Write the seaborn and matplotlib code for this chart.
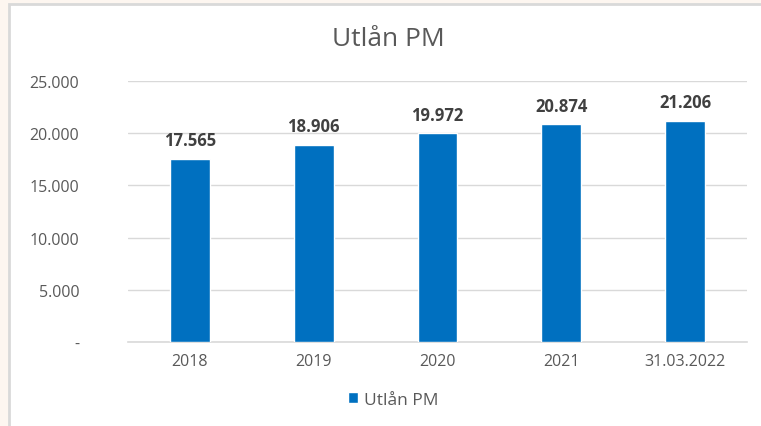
import numpy as np
import pandas as pd
import matplotlib
matplotlib.use("Agg")
import matplotlib.pyplot as plt
import seaborn as sns
from matplotlib.patches import Rectangle
from matplotlib import ticker

categories = ["2018", "2019", "2020", "2021", "31.03.2022"]
values = [17565, 18906, 19972, 20874, 21206]
series_name = "Utlån PM"
yticks = [0, 5000, 10000, 15000, 20000, 25000]

sns.set_style("white")
plt.rcParams['font.family'] = ['Open Sans', 'DejaVu Sans']

data = pd.DataFrame({"Year": categories, series_name: values})

fig = plt.figure(figsize=(7.61, 4.27), dpi=100, facecolor="#fdf6f0")
# white chart panel with grey border
fig.patches.append(Rectangle((9 / 761, -0.05), 1.0, 1 - 5 / 427 + 0.05, transform=fig.transFigure,
                             facecolor="white", edgecolor="#d9d9d9", linewidth=2, zorder=-5))

ax = fig.add_axes([128 / 761, 1 - 343 / 427, (747 - 128) / 761, (343 - 82) / 427])
ax.set_facecolor("none")

sns.barplot(data=data, x="Year", y=series_name, color="#0070c0", width=0.32, saturation=1,
            ax=ax, label=series_name, zorder=3)

ax.set_ylim(0, 25000)
ax.set_xlim(-0.5, len(categories) - 0.5)
ax.set_yticks(yticks)
ax.yaxis.set_major_formatter(ticker.FuncFormatter(
    lambda v, p: "-" if v == 0 else f"{int(v):,}".replace(",", ".")))
ax.yaxis.grid(True, color="#d9d9d9", linewidth=1, zorder=0)
ax.set_axisbelow(True)

for s in ["top", "right", "left"]:
    ax.spines[s].set_visible(False)
ax.spines["bottom"].set_color("#d9d9d9")
ax.spines["bottom"].set_linewidth(1.2)

ax.tick_params(axis="y", length=0, labelsize=11.5, labelcolor="#595959", pad=35)
ax.tick_params(axis="x", which="major", length=0, labelsize=11.5, labelcolor="#595959", pad=8)
ax.xaxis.set_minor_locator(ticker.FixedLocator(np.arange(-0.5, len(categories), 1.0)))
ax.tick_params(axis="x", which="minor", length=5, color="#d9d9d9", width=1.2, direction="out")
ax.set_xlabel("")
ax.set_ylabel("")

for i, v in enumerate(values):
    ax.text(i, v + 900, f"{v:,}".replace(",", "."), ha="center", va="bottom",
            fontsize=12, fontweight="bold", color="#404040")

fig.text(388 / 761, 1 - 40 / 427, "Utlån PM", ha="center", va="center", fontsize=19, color="#595959")

handles, labels = ax.get_legend_handles_labels()
if ax.get_legend() is not None:
    ax.get_legend().remove()
leg = fig.legend(handles, labels, loc="center", bbox_to_anchor=(393 / 761, 1 - 401 / 427),
                 frameon=False, fontsize=12.5, handlelength=0.6, handleheight=0.6, handletextpad=0.3)
for t in leg.get_texts():
    t.set_color("#595959")

plt.savefig("out.png", dpi=100, facecolor=fig.get_facecolor())
